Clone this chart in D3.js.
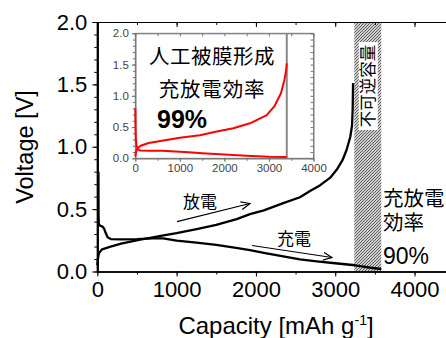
<!DOCTYPE html>
<html>
<head>
<meta charset="utf-8">
<script src="https://cdn.jsdelivr.net/npm/d3@7"></script>
<style>
    body { margin: 0; background: #fff; }
    svg { display: block; }
    .num { font-family: "Liberation Sans", Arial, sans-serif; }
    .jp { font-family: "Noto Sans CJK JP", sans-serif; }
</style>
</head>
<body>
<svg id="chart" width="446" height="338"></svg>
<script>
const xTicks = [0, 1000, 2000, 3000, 4000];
const yTicks = [0, 0.5, 1.0, 1.5, 2.0];
const insetXTicks = [0, 1000, 2000, 3000, 4000];
const insetYTicks = [0, 0.5, 1.0, 1.5, 2.0];

// main plot, [capacity mAh/g, voltage V]
const chargeCurve = [
    [14, 0.80], [15, 0.60], [16, 0.45], [19, 0.38], [40, 0.365], [65, 0.36], [85, 0.345],
    [105, 0.31], [130, 0.275], [170, 0.26], [300, 0.257], [500, 0.26], [700, 0.266],
    [830, 0.265], [1000, 0.248], [1250, 0.232], [1500, 0.213], [1750, 0.19], [1925, 0.172],
    [2100, 0.15], [2345, 0.122], [2555, 0.098], [2767, 0.082], [3000, 0.066], [3250, 0.05],
    [3450, 0.03], [3580, 0.02]
];
const dischargeCurve = [
    [0, 0.05], [8, 0.10], [20, 0.145], [60, 0.178], [168, 0.20], [300, 0.224], [420, 0.24],
    [540, 0.255], [666, 0.27], [800, 0.285], [1000, 0.307], [1253, 0.339], [1500, 0.373],
    [1757, 0.42], [1925, 0.46], [2100, 0.49], [2345, 0.548], [2555, 0.595], [2682, 0.645],
    [2806, 0.69], [2934, 0.75], [3018, 0.815], [3090, 0.89], [3144, 0.976], [3190, 1.08],
    [3212, 1.17], [3220, 1.3], [3225, 1.51]
];
const irreversible = [3240, 3580];

// inset, [capacity mAh/g, voltage V]
const insetCharge = [
    [0, 0.80], [5, 0.50], [12, 0.30], [30, 0.20], [60, 0.15], [100, 0.125], [300, 0.12],
    [600, 0.12], [900, 0.11], [1200, 0.095], [1500, 0.08], [2000, 0.06], [2500, 0.04],
    [3000, 0.025], [3400, 0.02]
];
const insetDischarge = [
    [0, 0.03], [15, 0.10], [50, 0.16], [120, 0.20], [300, 0.245], [600, 0.28], [1000, 0.33],
    [1450, 0.37], [1830, 0.43], [2200, 0.48], [2575, 0.56], [2950, 0.69], [3120, 0.83],
    [3270, 1.04], [3345, 1.25], [3385, 1.4], [3400, 1.52]
];
const insetCut = 3400;

const svg = d3.select('#chart');

const x = d3.scaleLinear().domain([0, 4500]).range([97.3, 454.2]);
const y = d3.scaleLinear().domain([0, 2]).range([271.5, 22]);

const defs = svg.append('defs');
defs.append('pattern')
    .attr('id', 'hatch')
    .attr('patternUnits', 'userSpaceOnUse')
    .attr('width', 3).attr('height', 3)
    .append('path')
    .attr('d', 'M-1,1 l2,-2 M0,3 l3,-3 M2,4 l2,-2')
    .attr('stroke', '#555')
    .attr('stroke-width', 1.1);

defs.append('marker')
    .attr('id', 'arrow')
    .attr('viewBox', '0 0 10 10')
    .attr('refX', 9).attr('refY', 5)
    .attr('markerWidth', 10).attr('markerHeight', 10)
    .attr('markerUnits', 'userSpaceOnUse')
    .attr('orient', 'auto')
    .append('path')
    .attr('d', 'M0,1 L9,5 L0,9')
    .attr('fill', 'none')
    .attr('stroke', '#000')
    .attr('stroke-width', 1.2);

// irreversible capacity band
svg.append('rect')
    .attr('x', x(irreversible[0]))
    .attr('y', y(2))
    .attr('width', x(irreversible[1]) - x(irreversible[0]))
    .attr('height', y(0) - y(2))
    .attr('fill', 'url(#hatch)');

// main axes
function styleAxis(g, w) {
    g.select('.domain').attr('stroke', '#000').attr('stroke-width', w);
    g.selectAll('.tick line').attr('stroke', '#000').attr('stroke-width', 1);
}

const minorX = d3.range(0, 4501, 500);
const minorY = d3.range(0, 2.001, 0.1);

svg.append('g')
    .attr('transform', `translate(0,${y(0)})`)
    .call(d3.axisBottom(x).tickValues(minorX).tickSize(3).tickFormat('').tickSizeOuter(0))
    .call(g => styleAxis(g, 1.5));
svg.append('g')
    .attr('class', 'num')
    .attr('transform', `translate(0,${y(0)})`)
    .call(d3.axisBottom(x).tickValues(xTicks).tickSize(5).tickPadding(5).tickSizeOuter(0).tickFormat(d3.format('d')))
    .call(g => styleAxis(g, 1.5))
    .call(g => g.selectAll('text').attr('font-size', 22).attr('fill', '#000').attr('font-family', 'Liberation Sans, Arial, sans-serif'));

svg.append('g')
    .attr('transform', `translate(0,${y(2)})`)
    .call(d3.axisBottom(x).tickValues(minorX).tickSize(3).tickFormat('').tickSizeOuter(0))
    .call(g => styleAxis(g, 1));
svg.append('g')
    .attr('transform', `translate(0,${y(2)})`)
    .call(d3.axisBottom(x).tickValues(xTicks).tickSize(5).tickFormat('').tickSizeOuter(0))
    .call(g => styleAxis(g, 1));

svg.append('g')
    .attr('transform', `translate(${x(0)},0)`)
    .call(d3.axisLeft(y).tickValues(minorY).tickSize(3).tickFormat('').tickSizeOuter(0))
    .call(g => styleAxis(g, 2));
svg.append('g')
    .attr('transform', `translate(${x(0)},0)`)
    .call(d3.axisLeft(y).tickValues(yTicks).tickSize(5).tickPadding(5).tickSizeOuter(0).tickFormat(d3.format('.1f')))
    .call(g => styleAxis(g, 2))
    .call(g => g.selectAll('text').attr('font-size', 22).attr('fill', '#000').attr('font-family', 'Liberation Sans, Arial, sans-serif'));

// main curves
const lineY = d3.line().x(d => x(d[0])).y(d => y(d[1]));

[chargeCurve, dischargeCurve].forEach(series => {
    svg.append('path')
        .datum(series)
        .attr('d', lineY)
        .attr('fill', 'none')
        .attr('stroke', '#000')
        .attr('stroke-width', 2.3)
        .attr('stroke-linejoin', 'round');
});

// irreversible label
const irrX = (x(irreversible[0]) + x(irreversible[1])) / 2 + 0.5;
svg.append('rect')
    .attr('x', irrX - 9.5).attr('y', 42)
    .attr('width', 19).attr('height', 88)
    .attr('fill', '#fff');
svg.append('text')
    .attr('class', 'jp')
    .attr('transform', `translate(${irrX + 6},86) rotate(-90)`)
    .attr('text-anchor', 'middle')
    .attr('font-size', 16.5)
    .text('不可逆容量');

// annotations
svg.append('text').attr('class', 'jp').attr('x', 183).attr('y', 208).attr('font-size', 17).text('放電');
svg.append('line')
    .attr('x1', 177).attr('y1', 221.7).attr('x2', 250).attr('y2', 203.5)
    .attr('stroke', '#000').attr('stroke-width', 1.2).attr('marker-end', 'url(#arrow)');
svg.append('text').attr('class', 'jp').attr('x', 277).attr('y', 244.5).attr('font-size', 17).text('充電');
svg.append('line')
    .attr('x1', 252).attr('y1', 245.5).attr('x2', 332).attr('y2', 257.5)
    .attr('stroke', '#000').attr('stroke-width', 1.2).attr('marker-end', 'url(#arrow)');

svg.append('text').attr('class', 'jp').attr('x', 383).attr('y', 206).attr('font-size', 20.5).text('充放電');
svg.append('text').attr('class', 'jp').attr('x', 383).attr('y', 229.5).attr('font-size', 20.5).text('効率');
svg.append('text').attr('class', 'num').attr('x', 383).attr('y', 263.5).attr('font-size', 23).text('90%');

// axis titles
svg.append('text')
    .attr('class', 'num')
    .attr('transform', 'translate(33,147) rotate(-90)')
    .attr('text-anchor', 'middle')
    .attr('font-size', 23.5)
    .text('Voltage [V]');
const xt = svg.append('text')
    .attr('class', 'num')
    .attr('x', 276).attr('y', 333.5)
    .attr('text-anchor', 'middle')
    .attr('font-size', 24);
xt.append('tspan').text('Capacity [mAh g');
xt.append('tspan').attr('font-size', 14).attr('dy', -9).text('-1');
xt.append('tspan').attr('dy', 9).text(']');

// inset
const ix = d3.scaleLinear().domain([0, 4000]).range([135.3, 313.5]);
const iy = d3.scaleLinear().domain([0, 2]).range([158.3, 33.3]);

const inset = svg.append('g');
inset.append('rect')
    .attr('x', ix(0)).attr('y', iy(2))
    .attr('width', ix(4000) - ix(0)).attr('height', iy(0) - iy(2))
    .attr('fill', '#fff')
    .attr('stroke', '#888')
    .attr('stroke-width', 1);

function styleInset(g) {
    g.select('.domain').attr('stroke', '#777').attr('stroke-width', 1);
    g.selectAll('.tick line').attr('stroke', '#777');
    g.selectAll('text').attr('font-size', 11.5).attr('fill', '#444').attr('font-family', 'Liberation Sans, Arial, sans-serif');
}
const iMinorX = d3.range(0, 4001, 500);
const iMinorY = d3.range(0, 2.001, 0.1);

inset.append('g').attr('transform', `translate(0,${iy(0)})`)
    .call(d3.axisBottom(ix).tickValues(iMinorX).tickSize(2.5).tickFormat('').tickSizeOuter(0)).call(styleInset);
inset.append('g').attr('transform', `translate(0,${iy(0)})`)
    .call(d3.axisBottom(ix).tickValues(insetXTicks).tickSize(3.5).tickPadding(2).tickSizeOuter(0).tickFormat(d3.format('d'))).call(styleInset);
inset.append('g').attr('transform', `translate(0,${iy(2)})`)
    .call(d3.axisBottom(ix).tickValues(iMinorX).tickSize(3).tickFormat('').tickSizeOuter(0)).call(styleInset);
inset.append('g').attr('transform', `translate(${ix(0)},0)`)
    .call(d3.axisLeft(iy).tickValues(iMinorY).tickSize(2.5).tickFormat('').tickSizeOuter(0)).call(styleInset);
inset.append('g').attr('transform', `translate(${ix(0)},0)`)
    .call(d3.axisLeft(iy).tickValues(insetYTicks).tickSize(3.5).tickPadding(3).tickSizeOuter(0).tickFormat(d3.format('.1f'))).call(styleInset);
inset.append('g').attr('transform', `translate(${ix(4000)},0)`)
    .call(d3.axisLeft(iy).tickValues(iMinorY).tickSize(3).tickFormat('').tickSizeOuter(0)).call(styleInset);

inset.append('line')
    .attr('x1', ix(insetCut)).attr('x2', ix(insetCut))
    .attr('y1', iy(2)).attr('y2', iy(0))
    .attr('stroke', '#888').attr('stroke-width', 2);

const iline = d3.line().x(d => ix(d[0])).y(d => iy(d[1]));
[insetCharge, insetDischarge].forEach(series => {
    inset.append('path')
        .datum(series)
        .attr('d', iline)
        .attr('fill', 'none')
        .attr('stroke', '#f00')
        .attr('stroke-width', 2)
        .attr('stroke-linejoin', 'round');
});

inset.append('text').attr('class', 'jp').attr('x', 212).attr('y', 64).attr('text-anchor', 'middle')
    .attr('font-size', 20.5).attr('letter-spacing', 0.5).text('人工被膜形成');
inset.append('text').attr('class', 'jp').attr('x', 212).attr('y', 97).attr('text-anchor', 'middle')
    .attr('font-size', 20.5).attr('letter-spacing', 0.8).text('充放電効率');
inset.append('text').attr('class', 'num').attr('x', 157).attr('y', 128).attr('font-size', 25)
    .attr('font-weight', 'bold').text('99%');
</script>
</body>
</html>
